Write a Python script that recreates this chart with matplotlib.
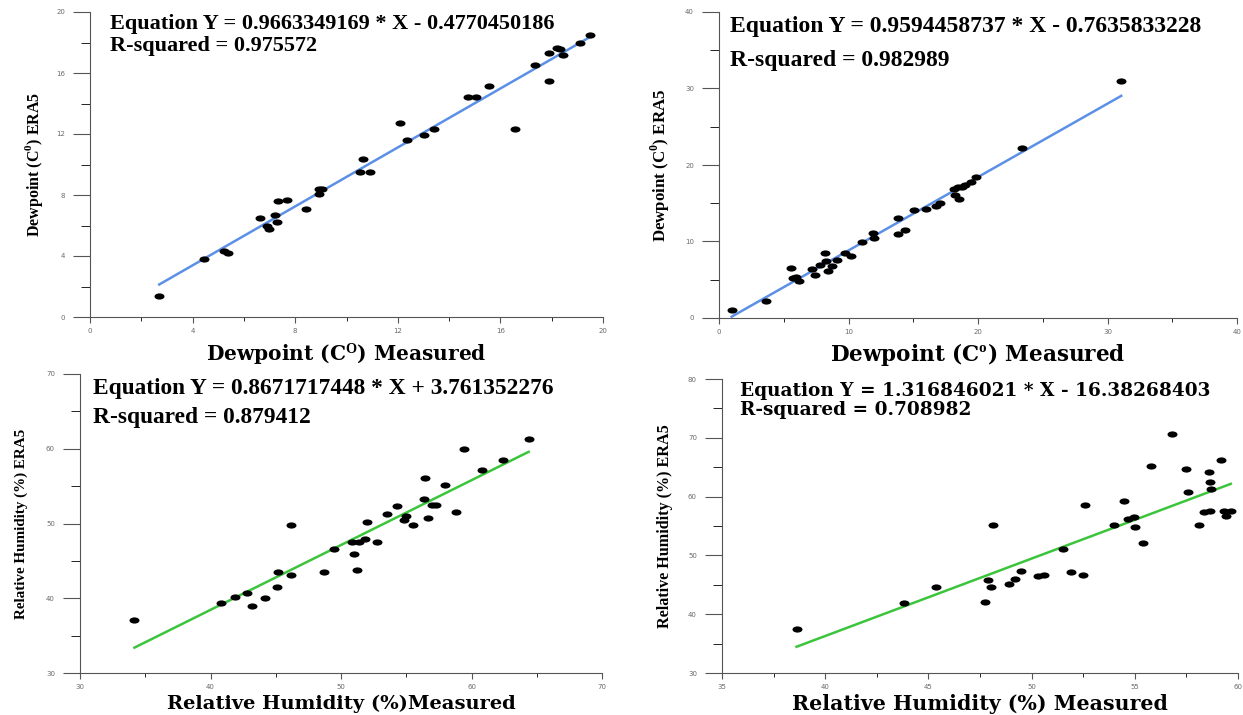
import matplotlib
matplotlib.use("Agg")
import matplotlib.pyplot as plt
from matplotlib.path import Path
from matplotlib.transforms import Affine2D
from matplotlib.ticker import MultipleLocator

plt.rcParams["mathtext.fontset"] = "custom"
plt.rcParams["mathtext.rm"] = "Liberation Serif:bold"
plt.rcParams["mathtext.bf"] = "Liberation Serif:bold"

# Dewpoint, station A (deg C)
dpa_measured = [2.70, 4.46, 5.24, 5.37, 6.63, 6.91, 6.97, 7.22, 7.28, 7.32, 7.69, 8.42,
                8.91, 8.91, 9.04, 10.53, 10.66, 10.92, 12.09, 12.37, 13.01, 13.40, 14.73,
                15.03, 15.57, 16.55, 17.35, 17.90, 17.90, 18.20, 18.33, 18.46, 19.09, 19.49]
dpa_era5 = [1.40, 3.82, 4.32, 4.19, 6.51, 5.96, 5.79, 6.72, 6.24, 7.58, 7.64, 7.07,
            8.38, 8.06, 8.38, 9.54, 10.35, 9.52, 12.73, 11.59, 11.94, 12.34, 14.41,
            14.41, 15.15, 12.31, 16.55, 17.31, 15.48, 17.64, 17.55, 17.21, 17.99, 18.49]
dpa_fit = (0.9663349169, -0.4770450186, 0.975572)

# Dewpoint, station B (deg C)
dpb_measured = [0.98, 3.65, 5.59, 5.74, 5.95, 6.14, 7.18, 7.43, 7.83, 8.16, 8.23, 8.38,
                8.69, 9.09, 9.76, 10.19, 11.02, 11.91, 12.00, 13.81, 13.81, 14.37, 15.04,
                15.96, 16.73, 17.04, 18.11, 18.20, 18.42, 18.57, 18.78, 18.97, 19.43,
                19.86, 23.42, 31.06]
dpb_era5 = [1.09, 2.27, 6.54, 5.19, 5.32, 4.80, 6.37, 5.67, 6.98, 8.46, 7.50, 6.19,
            6.76, 7.63, 8.46, 8.07, 9.90, 11.12, 10.42, 13.08, 11.03, 11.56, 14.09,
            14.22, 14.65, 15.00, 16.88, 16.05, 17.10, 15.57, 17.18, 17.40, 17.75,
            18.40, 22.24, 30.96]
dpb_fit = (0.9594458737, -0.7635833228, 0.982989)

# Relative humidity, station A (%)
rha_measured = [34.17, 40.79, 41.84, 42.78, 43.17, 44.17, 45.08, 45.14, 46.20, 46.17,
                48.70, 49.43, 50.82, 51.00, 51.21, 51.36, 51.87, 51.96, 52.75, 53.53,
                54.32, 54.80, 54.98, 55.50, 56.38, 56.47, 56.65, 57.01, 57.25, 58.00,
                58.85, 59.43, 60.79, 62.45, 64.38]
rha_era5 = [37.10, 39.33, 40.22, 40.71, 39.02, 40.00, 41.56, 43.57, 43.08, 49.82,
            43.48, 46.61, 47.59, 45.94, 43.79, 47.59, 47.86, 50.22, 47.59, 51.25,
            52.37, 50.49, 50.94, 49.82, 53.26, 56.03, 50.76, 52.54, 52.54, 55.18,
            51.52, 60.00, 57.14, 58.48, 61.29]
rha_fit = (0.8671717448, 3.761352276, 0.879412)

# Relative humidity, station B (%)
rhb_measured = [38.61, 43.84, 45.37, 47.72, 47.88, 48.01, 48.11, 48.90, 49.21, 49.48,
                50.33, 50.58, 51.53, 51.91, 52.47, 52.61, 53.98, 54.50, 54.69, 54.98,
                55.00, 55.41, 55.77, 56.80, 57.49, 57.59, 58.09, 58.34, 58.59, 58.63,
                58.65, 58.69, 59.19, 59.34, 59.40, 59.65]
rhb_era5 = [37.43, 41.88, 44.57, 42.00, 45.82, 44.57, 55.19, 45.20, 46.00, 47.30,
            46.58, 46.63, 51.14, 47.10, 46.67, 58.60, 55.19, 59.17, 56.16, 56.56,
            54.85, 52.17, 65.16, 70.65, 64.65, 60.77, 55.19, 57.36, 64.10, 57.53,
            62.56, 61.30, 66.30, 57.59, 56.68, 57.59]
rhb_fit = (1.316846021, -16.38268403, 0.708982)

BLUE = "#5c90e6"
GREEN = "#3cc43c"
AXIS_GREY = "#555555"
TICK_GREY = "#6a6a6a"

# flattened ellipse for the scatter points
DOT = Path.unit_circle().transformed(Affine2D().scale(1.0, 0.62))


def equation_text(slope, intercept, r2):
    sign = "-" if intercept < 0 else "+"
    return f"Equation Y = {slope} * X {sign} {abs(intercept)}", f"R-squared = {r2}"


def draw_panel(fig, p):
    ax = fig.add_axes(p["rect"])
    slope, intercept, r2 = p["fit"]

    ax.scatter(p["x"], p["y"], s=52, marker=DOT, color="black", lw=0, zorder=3)
    x0, x1 = min(p["x"]), max(p["x"])
    ax.plot([x0, x1], [slope * x0 + intercept, slope * x1 + intercept],
            color=p["line"], lw=1.8, zorder=2)

    ax.set_xlim(*p["xlim"])
    ax.set_ylim(*p["ylim"])
    ax.xaxis.set_major_locator(MultipleLocator(p["xstep"]))
    ax.xaxis.set_minor_locator(MultipleLocator(p["xstep"] / 2))
    ax.yaxis.set_major_locator(MultipleLocator(p["ystep"]))
    ax.yaxis.set_minor_locator(MultipleLocator(p["ystep"] / 2))

    for side in ("top", "right"):
        ax.spines[side].set_visible(False)
    for side in ("left", "bottom"):
        ax.spines[side].set_color(AXIS_GREY)
        ax.spines[side].set_linewidth(0.8)
    ax.tick_params(colors=AXIS_GREY, labelcolor=TICK_GREY, labelsize=5, width=0.8)
    ax.tick_params(axis="x", which="major", length=4.5, pad=3.5)
    ax.tick_params(axis="x", which="minor", length=3)
    ax.tick_params(axis="y", which="major", length=12, pad=6)
    ax.tick_params(axis="y", which="minor", length=6.5)
    for lab in ax.get_xticklabels() + ax.get_yticklabels():
        lab.set_family("DejaVu Sans")

    ax.set_xlabel(p["xlabel"], family="DejaVu Serif", weight="bold",
                  fontsize=p["xlabel_size"], va="center")
    ax.xaxis.set_label_coords(0.5, p["xlabel_y"])
    ax.set_ylabel(p["ylabel"], family=["Liberation Serif", "DejaVu Serif"], weight="bold",
                  fontsize=p["ylabel_size"], va="center")
    ax.yaxis.set_label_coords(p["ylabel_x"], 0.5)

    eq, rsq = equation_text(slope, intercept, r2)
    tx, ty1, ty2 = p["text_pos"]
    ax.text(tx, ty1, eq, transform=ax.transAxes, family=p["text_font"], weight="bold",
            fontsize=p["text_size"], va="center", ha="left")
    ax.text(tx, ty2, rsq, transform=ax.transAxes, family=p["text_font"], weight="bold",
            fontsize=p["text_size"], va="center", ha="left")
    return ax


def main():
    W, H = 1243, 715
    fig = plt.figure(figsize=(W / 100, H / 100), dpi=100)
    fig.patch.set_facecolor("white")

    def rect(left, right, top, bottom):
        return [left / W, 1 - bottom / H, (right - left) / W, (bottom - top) / H]

    panels = [
        dict(rect=rect(90, 603, 12, 317), x=dpa_measured, y=dpa_era5, fit=dpa_fit,
             line=BLUE, xlim=(0, 20), ylim=(0, 20), xstep=4, ystep=4,
             xlabel=r"Dewpoint (C$^{\mathbf{O}}$) Measured", xlabel_size=14.5, xlabel_y=-0.121,
             ylabel=r"Dewpoint (C$^{\mathbf{0}}$) ERA5", ylabel_size=11.5, ylabel_x=-0.109,
             text_font="Liberation Serif", text_size=16, text_pos=(0.039, 0.962, 0.890)),
        dict(rect=rect(719, 1237, 12, 318), x=dpb_measured, y=dpb_era5, fit=dpb_fit,
             line=BLUE, xlim=(0, 40), ylim=(0, 40), xstep=10, ystep=10,
             xlabel=r"Dewpoint (C$^{\mathbf{o}}$) Measured", xlabel_size=15.5, xlabel_y=-0.118,
             ylabel=r"Dewpoint (C$^{\mathbf{0}}$) ERA5", ylabel_size=12.2, ylabel_x=-0.114,
             text_font="Liberation Serif", text_size=17, text_pos=(0.021, 0.951, 0.843)),
        dict(rect=rect(80, 602, 374, 673), x=rha_measured, y=rha_era5, fit=rha_fit,
             line=GREEN, xlim=(30, 70), ylim=(30, 70), xstep=10, ystep=10,
             xlabel="Relative Humidity (%)Measured", xlabel_size=14, xlabel_y=-0.104,
             ylabel="Relative Humidity (%) ERA5", ylabel_size=10.9, ylabel_x=-0.112,
             text_font="Liberation Serif", text_size=16.8, text_pos=(0.025, 0.950, 0.853)),
        dict(rect=rect(722, 1238, 379, 673), x=rhb_measured, y=rhb_era5, fit=rhb_fit,
             line=GREEN, xlim=(35, 60), ylim=(30, 80), xstep=5, ystep=10,
             xlabel="Relative Humidity (%) Measured", xlabel_size=14.8, xlabel_y=-0.106,
             ylabel="Relative Humidity (%) ERA5", ylabel_size=11.6, ylabel_x=-0.110,
             text_font="DejaVu Serif", text_size=13.3, text_pos=(0.035, 0.959, 0.895)),
    ]
    for p in panels:
        draw_panel(fig, p)

    fig.savefig("out.png", dpi=100, facecolor="white")
    plt.close(fig)


if __name__ == "__main__":
    main()
